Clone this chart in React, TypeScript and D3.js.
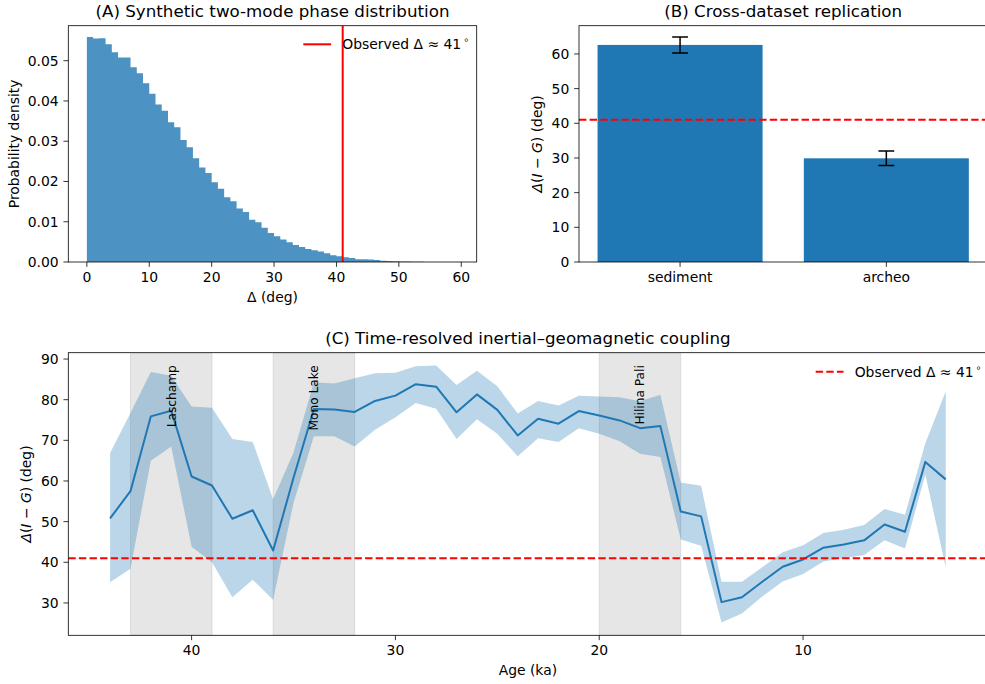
import React from 'react';
import * as d3 from 'd3';

// ---------- Data ----------
const HIST_BIN_START = 0;
const HIST_BIN_WIDTH = 1;
const HIST_DENSITY = [
  0.0559, 0.0555, 0.0556, 0.0541, 0.0521, 0.0508, 0.0508, 0.0484, 0.0469, 0.0444,
  0.0418, 0.0391, 0.0376, 0.0347, 0.0335, 0.0303, 0.0285, 0.0258, 0.0235, 0.0221,
  0.0198, 0.0182, 0.0161, 0.0151, 0.0133, 0.0124, 0.0105, 0.0099, 0.0085, 0.0072,
  0.0064, 0.0056, 0.0049, 0.0042, 0.0037, 0.0032, 0.0029, 0.0026, 0.0022, 0.0017,
  0.0014, 0.0012, 0.0010, 0.0007, 0.0007, 0.0006, 0.0005, 0.0003, 0.00025, 0.0002,
  0.00012, 0.0001, 0.00006, 0.00004, 0.00003, 0.00002, 0.00001, 0.00001, 0.0, 0.00001,
];
const OBSERVED_DELTA = 41;
const A_X_TICKS = [0, 10, 20, 30, 40, 50, 60];
const A_Y_TICKS = [0, 0.01, 0.02, 0.03, 0.04, 0.05];

const B_CATEGORIES = ['sediment', 'archeo'];
const B_VALUES = [62.6, 29.9];
const B_ERRORS = [2.3, 2.1];
const B_Y_TICKS = [0, 10, 20, 30, 40, 50, 60];

const C_AGES = [44, 43, 42, 41, 40, 39, 38, 37, 36, 35, 34, 33, 32, 31, 30, 29, 28, 27, 26, 25, 24,
  23, 22, 21, 20, 19, 18, 17, 16, 15, 14, 13, 12, 11, 10, 9, 8, 7, 6, 5, 4, 3];
const C_MEAN = [50.8, 57.5, 75.9, 77.3, 61.1, 58.9, 50.7, 52.8, 42.9, 60.8, 77.7, 77.6, 77.0, 79.7,
  81.0, 83.8, 83.2, 76.9, 81.3, 77.5, 71.2, 75.3, 74.1, 77.2, 76.1, 74.9, 73.0, 73.5, 52.5, 51.3,
  30.2, 31.4, 35.2, 38.9, 40.7, 43.6, 44.4, 45.4, 49.3, 47.5, 64.7, 60.4];
const C_LOWER = [35.1, 38.4, 65.0, 68.5, 43.8, 40.0, 31.4, 35.7, 30.8, 54.6, 71.0, 71.0, 68.5, 72.6,
  75.7, 79.2, 77.8, 70.3, 75.2, 71.6, 66.1, 70.5, 69.6, 73.0, 71.6, 69.8, 66.7, 65.9, 45.6, 44.1,
  25.2, 27.4, 31.6, 35.3, 37.1, 40.2, 41.0, 41.8, 45.4, 43.4, 61.6, 38.8];
const C_UPPER = [66.9, 76.7, 86.8, 85.9, 78.3, 78.0, 70.3, 69.6, 55.5, 67.0, 84.3, 84.0, 85.3, 86.5,
  86.6, 88.2, 88.4, 83.6, 87.1, 83.3, 76.6, 79.7, 78.6, 81.0, 80.8, 80.6, 79.6, 81.2, 59.6, 58.8,
  35.2, 35.2, 38.8, 42.5, 44.2, 47.2, 48.0, 49.2, 53.1, 51.7, 69.3, 82.0];
const C_EXCURSION_NAMES = ['Laschamp', 'Mono Lake', 'Hilina Pali'];
const C_EXCURSION_START = [43, 36, 20];
const C_EXCURSION_END = [39, 32, 16];
const C_LABEL_Y = 88.5;
const C_X_TICKS = [40, 30, 20, 10];
const C_Y_TICKS = [30, 40, 50, 60, 70, 80, 90];

// ---------- Style ----------
const FONT = "'DejaVu Sans', 'Liberation Sans', sans-serif";
const C0 = '#1f77b4';
const TICK = 4.86;
const PAD = 4.86;
const FS = 13.9;
const TFS = 16.7;
const DASH = '7.4,3.2';

type Box = { l: number; r: number; t: number; b: number };
const BOX_A: Box = { l: 68.3, r: 476.7, t: 25.7, b: 262 };
const BOX_B: Box = { l: 579, r: 987.4, t: 25.7, b: 262 };
const BOX_C: Box = { l: 68.3, r: 987.5, t: 352.7, b: 635.3 };

function XAxis({ box, scale, ticks, fmt }: { box: Box; scale: (v: any) => number; ticks: any[]; fmt: (v: any) => string }) {
  return (
    <g>
      {ticks.map((t, i) => {
        const x = scale(t);
        return (
          <g key={i}>
            <line x1={x} x2={x} y1={box.b} y2={box.b + TICK} stroke="#000" strokeWidth={0.8} />
            <text x={x} y={box.b + TICK + PAD + 10.3} textAnchor="middle" fontSize={FS} fontFamily={FONT} fill="#000">
              {fmt(t)}
            </text>
          </g>
        );
      })}
    </g>
  );
}

function YAxis({ box, scale, ticks, fmt }: { box: Box; scale: (v: number) => number; ticks: number[]; fmt: (v: number) => string }) {
  return (
    <g>
      {ticks.map((t, i) => {
        const y = scale(t);
        return (
          <g key={i}>
            <line x1={box.l - TICK} x2={box.l} y1={y} y2={y} stroke="#000" strokeWidth={0.8} />
            <text x={box.l - TICK - PAD} y={y + 5.0} textAnchor="end" fontSize={FS} fontFamily={FONT} fill="#000">
              {fmt(t)}
            </text>
          </g>
        );
      })}
    </g>
  );
}

function Frame({ box }: { box: Box }) {
  return (
    <rect x={box.l} y={box.t} width={box.r - box.l} height={box.b - box.t} fill="none" stroke="#000" strokeWidth={0.8} />
  );
}

function Title({ box, text }: { box: Box; text: string }) {
  return (
    <text x={(box.l + box.r) / 2} y={box.t - 8.4} textAnchor="middle" fontSize={TFS} fontFamily={FONT} fill="#000">
      {text}
    </text>
  );
}

function DeltaLabel({ x, cy }: { x: number; cy: number }) {
  return (
    <text transform={`translate(${x},${cy}) rotate(-90)`} textAnchor="middle" fontSize={FS} fontFamily={FONT} fill="#000">
      <tspan fontStyle="italic">Δ</tspan>(<tspan fontStyle="italic">I</tspan> − <tspan fontStyle="italic">G</tspan>) (deg)
    </text>
  );
}

function LegendEntry({ x, y, dashed, lw }: { x: number; y: number; dashed: boolean; lw: number }) {
  return (
    <g>
      <line x1={x} x2={x + 27.8} y1={y} y2={y} stroke="red" strokeWidth={lw} strokeDasharray={dashed ? DASH : undefined} />
      <text x={x + 39} y={y + 5.1} fontSize={FS} fontFamily={FONT} fill="#000">
        Observed Δ ≈ 41<tspan dx={2} dy={-6} fontSize={9.5}>∘</tspan>
      </text>
    </g>
  );
}

function PanelA() {
  const box = BOX_A;
  const dataMin = HIST_BIN_START;
  const dataMax = 59.5;
  const m = (dataMax - dataMin) * 0.05;
  const x = d3.scaleLinear().domain([dataMin - m, dataMax + m]).range([box.l, box.r]);
  const y = d3.scaleLinear().domain([0, (d3.max(HIST_DENSITY) as number) * 1.05]).range([box.b, box.t]);
  // step outline of the histogram: each bin contributes its left and right edge at its height
  const pts: [number, number][] = [];
  HIST_DENSITY.forEach((d, i) => {
    const e0 = HIST_BIN_START + i * HIST_BIN_WIDTH;
    const e1 = e0 + HIST_BIN_WIDTH;
    pts.push([e0, d], [e1, d]);
  });
  const histArea = d3.area<[number, number]>().x((p) => x(p[0])).y0(y(0)).y1((p) => y(p[1]));
  return (
    <g>
      <defs>
        <clipPath id="clipA"><rect x={box.l} y={box.t} width={box.r - box.l} height={box.b - box.t} /></clipPath>
      </defs>
      <g clipPath="url(#clipA)">
        <path d={histArea(pts) as string} fill={C0} fillOpacity={0.8} />
        <line x1={x(OBSERVED_DELTA)} x2={x(OBSERVED_DELTA)} y1={box.t} y2={box.b} stroke="red" strokeWidth={2} />
      </g>
      <Frame box={box} />
      <XAxis box={box} scale={x} ticks={A_X_TICKS} fmt={(v) => String(v)} />
      <YAxis box={box} scale={y} ticks={A_Y_TICKS} fmt={(v) => v.toFixed(2)} />
      <Title box={box} text="(A) Synthetic two-mode phase distribution" />
      <text x={(box.l + box.r) / 2} y={box.b + 39.7} textAnchor="middle" fontSize={FS} fontFamily={FONT}>Δ (deg)</text>
      <text transform={`translate(${18.5},${(box.t + box.b) / 2}) rotate(-90)`} textAnchor="middle" fontSize={FS} fontFamily={FONT}>
        Probability density
      </text>
      <LegendEntry x={box.r - 173.4} y={44.3} dashed={false} lw={2} />
    </g>
  );
}

function PanelB() {
  const box = BOX_B;
  const idx = B_CATEGORIES.map((_, i) => i);
  const barW = 0.8;
  const lo = -barW / 2;
  const hi = B_CATEGORIES.length - 1 + barW / 2;
  const mg = (hi - lo) * 0.05;
  const x = d3.scaleLinear().domain([lo - mg, hi + mg]).range([box.l, box.r]);
  const ymax = d3.max(idx, (i) => B_VALUES[i] + B_ERRORS[i]) as number;
  const y = d3.scaleLinear().domain([0, ymax * 1.05]).range([box.b, box.t]);
  const cap = 7.9;
  return (
    <g>
      <defs>
        <clipPath id="clipB"><rect x={box.l} y={box.t} width={box.r - box.l} height={box.b - box.t} /></clipPath>
      </defs>
      <g clipPath="url(#clipB)">
        {idx.map((i) => (
          <rect key={i} x={x(i - barW / 2)} y={y(B_VALUES[i])} width={x(i + barW / 2) - x(i - barW / 2)}
            height={y(0) - y(B_VALUES[i])} fill={C0} />
        ))}
        {idx.map((i) => {
          const cx = x(i);
          const y1 = y(B_VALUES[i] - B_ERRORS[i]);
          const y2 = y(B_VALUES[i] + B_ERRORS[i]);
          return (
            <g key={i} stroke="#000" strokeWidth={1.5}>
              <line x1={cx} x2={cx} y1={y1} y2={y2} />
              <line x1={cx - cap} x2={cx + cap} y1={y1} y2={y1} />
              <line x1={cx - cap} x2={cx + cap} y1={y2} y2={y2} />
            </g>
          );
        })}
        <line x1={box.l} x2={box.r} y1={y(OBSERVED_DELTA)} y2={y(OBSERVED_DELTA)} stroke="red" strokeWidth={2} strokeDasharray={DASH} />
      </g>
      <Frame box={box} />
      <XAxis box={box} scale={(i: number) => x(i)} ticks={idx} fmt={(i) => B_CATEGORIES[i]} />
      <YAxis box={box} scale={y} ticks={B_Y_TICKS} fmt={(v) => String(v)} />
      <Title box={box} text="(B) Cross-dataset replication" />
      <DeltaLabel x={542} cy={(box.t + box.b) / 2} />
    </g>
  );
}

function PanelC() {
  const box = BOX_C;
  const aMax = d3.max(C_AGES) as number;
  const aMin = d3.min(C_AGES) as number;
  const am = (aMax - aMin) * 0.05;
  const x = d3.scaleLinear().domain([aMax + am, aMin - am]).range([box.l, box.r]);
  const vMin = d3.min(C_LOWER) as number;
  const vMax = d3.max(C_UPPER) as number;
  const vm = (vMax - vMin) * 0.05;
  const y = d3.scaleLinear().domain([vMin - vm, vMax + vm]).range([box.b, box.t]);
  const idx = C_AGES.map((_, i) => i);
  const area = d3.area<number>().x((i) => x(C_AGES[i])).y0((i) => y(C_LOWER[i])).y1((i) => y(C_UPPER[i]));
  const line = d3.line<number>().x((i) => x(C_AGES[i])).y((i) => y(C_MEAN[i]));
  return (
    <g>
      <defs>
        <clipPath id="clipC"><rect x={box.l} y={box.t} width={box.r - box.l} height={box.b - box.t} /></clipPath>
      </defs>
      <g clipPath="url(#clipC)">
        {C_EXCURSION_NAMES.map((n, i) => {
          const x0 = x(C_EXCURSION_START[i]);
          const x1 = x(C_EXCURSION_END[i]);
          return (
            <rect key={n} x={x0} y={box.t} width={x1 - x0} height={box.b - box.t} fill="gray" fillOpacity={0.2}
              stroke="gray" strokeOpacity={0.2} strokeWidth={1} />
          );
        })}
        <path d={area(idx) as string} fill={C0} fillOpacity={0.3} />
        <path d={line(idx) as string} fill="none" stroke={C0} strokeWidth={2} strokeLinejoin="round" />
        <line x1={box.l} x2={box.r} y1={y(OBSERVED_DELTA)} y2={y(OBSERVED_DELTA)} stroke="red" strokeWidth={2} strokeDasharray={DASH} />
        {C_EXCURSION_NAMES.map((n, i) => {
          const cx = x((C_EXCURSION_START[i] + C_EXCURSION_END[i]) / 2);
          return (
            <text key={n} transform={`translate(${cx + 4.3},${y(C_LABEL_Y)}) rotate(-90)`} textAnchor="end"
              fontSize={12.2} fontFamily={FONT} fill="#000">
              {n}
            </text>
          );
        })}
      </g>
      <Frame box={box} />
      <XAxis box={box} scale={x} ticks={C_X_TICKS} fmt={(v) => String(v)} />
      <YAxis box={box} scale={y} ticks={C_Y_TICKS} fmt={(v) => String(v)} />
      <Title box={box} text="(C) Time-resolved inertial–geomagnetic coupling" />
      <text x={(box.l + box.r) / 2} y={box.b + 39.7} textAnchor="middle" fontSize={FS} fontFamily={FONT}>Age (ka)</text>
      <DeltaLabel x={30.5} cy={(box.t + box.b) / 2} />
      <LegendEntry x={box.r - 171.8} y={371.7} dashed={true} lw={2} />
    </g>
  );
}

export default function App() {
  return (
    <svg width={985} height={684} viewBox="0 0 985 684"
      style={{ position: 'absolute', left: 0, top: 0, background: '#fff', display: 'block' }}>
      <rect x={0} y={0} width={985} height={684} fill="#fff" />
      <PanelA />
      <PanelB />
      <PanelC />
    </svg>
  );
}
